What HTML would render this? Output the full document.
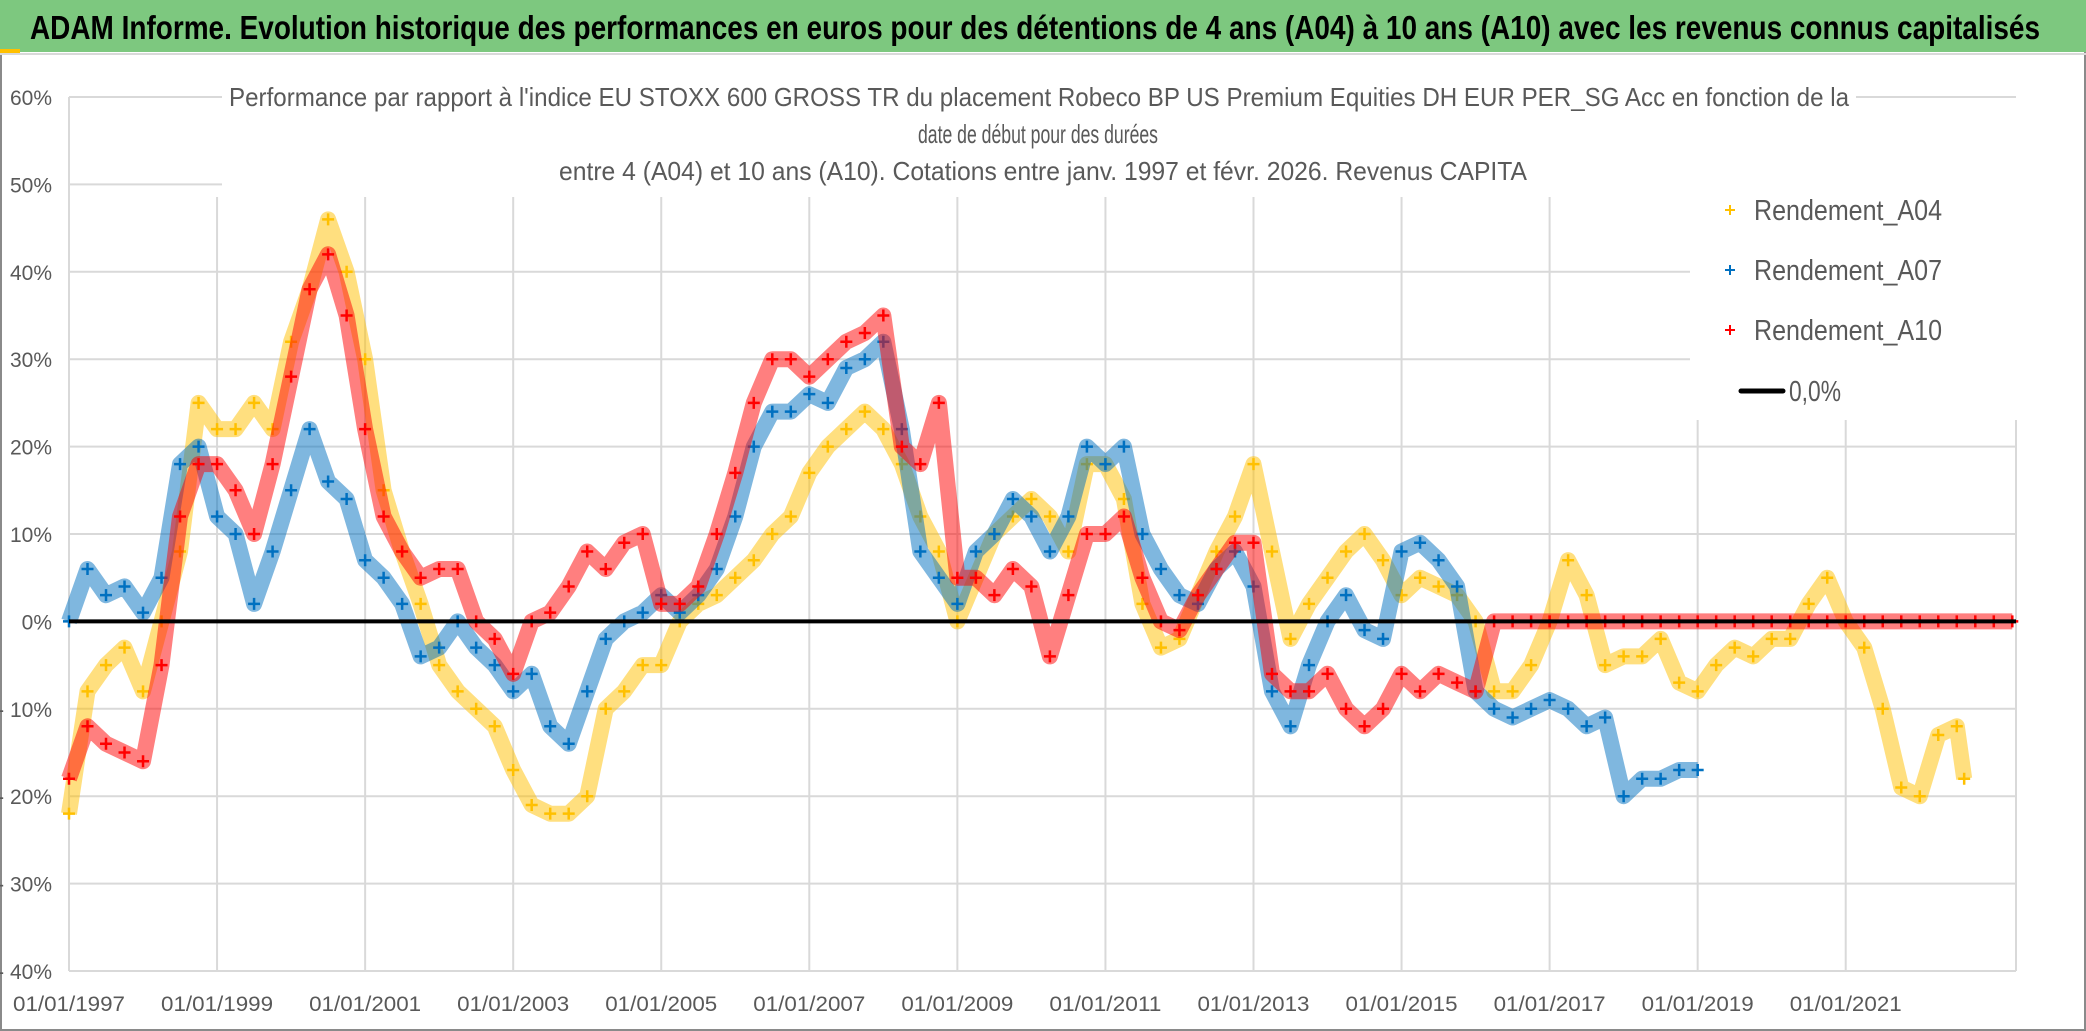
<!DOCTYPE html>
<html><head><meta charset="utf-8"><style>
html,body{margin:0;padding:0;background:#fff}
svg{display:block}
text{font-family:"Liberation Sans",sans-serif}
</style></head><body>
<svg id="chart" width="2086" height="1031" viewBox="0 0 2086 1031" xmlns="http://www.w3.org/2000/svg">
<rect x="0" y="0" width="2086" height="1031" fill="#fff"/>
<rect x="1" y="1" width="2084" height="1029" fill="none" stroke="#8a8a8a" stroke-width="2"/>
<rect x="0" y="0" width="2086" height="52" fill="#7dc87f"/>
<rect x="0" y="49" width="20" height="4" fill="#ffc000"/>
<line x1="0" y1="54" x2="2086" y2="54" stroke="#d9d9d9" stroke-width="2"/>
<text x="30" y="39" font-size="33" font-weight="bold" fill="#000" textLength="2010" lengthAdjust="spacingAndGlyphs">ADAM Informe. Evolution historique des performances en euros pour des détentions de 4 ans (A04) à 10 ans (A10) avec les revenus connus capitalisés</text>
<g id="grid"></g>
<g id="series"></g>
<g>
<rect x="222" y="80" width="1634" height="108" fill="#fff"/>
<text x="229" y="106" font-size="26" fill="#595959" textLength="1620" lengthAdjust="spacingAndGlyphs">Performance par rapport à l'indice EU STOXX 600 GROSS TR  du placement Robeco BP US Premium Equities DH EUR PER_SG Acc en fonction de la</text>
<text x="918" y="143" font-size="26" fill="#595959" textLength="240" lengthAdjust="spacingAndGlyphs">date de début pour des durées</text>
<text x="559" y="180" font-size="26" fill="#595959" textLength="968" lengthAdjust="spacingAndGlyphs">entre 4 (A04) et 10 ans (A10). Cotations entre janv. 1997 et févr. 2026. Revenus CAPITA</text>
</g>
<g id="legend">
<rect x="1690" y="180" width="330" height="240" fill="#fff"/>
<g><path d="M1725 210h10M1730 205v10" stroke="#ffc000" stroke-width="2"/><text x="1754" y="220" font-size="29" fill="#595959" textLength="188" lengthAdjust="spacingAndGlyphs">Rendement_A04</text></g>
<g><path d="M1725 270h10M1730 265v10" stroke="#0070c0" stroke-width="2"/><text x="1754" y="280" font-size="29" fill="#595959" textLength="188" lengthAdjust="spacingAndGlyphs">Rendement_A07</text></g>
<g><path d="M1725 330h10M1730 325v10" stroke="#ff0000" stroke-width="2"/><text x="1754" y="340" font-size="29" fill="#595959" textLength="188" lengthAdjust="spacingAndGlyphs">Rendement_A10</text></g>
<g><line x1="1741" y1="391" x2="1783" y2="391" stroke="#000" stroke-width="5" stroke-linecap="round"/><text x="1789" y="401" font-size="29" fill="#595959" textLength="52" lengthAdjust="spacingAndGlyphs">0,0%</text></g>
</g>
</svg>
<script>
const yTicks = [60,50,40,30,20,10,0,-10,-20,-30,-40];
const yTickLabels = ["60%","50%","40%","30%","20%","10%","0%","- 10%","- 20%","- 30%","- 40%"];
const xTicks = [1997,1999,2001,2003,2005,2007,2009,2011,2013,2015,2017,2019,2021];
const xTickLabels = ["01/01/1997","01/01/1999","01/01/2001","01/01/2003","01/01/2005","01/01/2007","01/01/2009","01/01/2011","01/01/2013","01/01/2015","01/01/2017","01/01/2019","01/01/2021"];
const datesA04 = [1997,1997.25,1997.5,1997.75,1998,1998.25,1998.5,1998.75,1999,1999.25,1999.5,1999.75,2000,2000.25,2000.5,2000.75,2001,2001.25,2001.5,2001.75,2002,2002.25,2002.5,2002.75,2003,2003.25,2003.5,2003.75,2004,2004.25,2004.5,2004.75,2005,2005.25,2005.5,2005.75,2006,2006.25,2006.5,2006.75,2007,2007.25,2007.5,2007.75,2008,2008.25,2008.5,2008.75,2009,2009.25,2009.5,2009.75,2010,2010.25,2010.5,2010.75,2011,2011.25,2011.5,2011.75,2012,2012.25,2012.5,2012.75,2013,2013.25,2013.5,2013.75,2014,2014.25,2014.5,2014.75,2015,2015.25,2015.5,2015.75,2016,2016.25,2016.5,2016.75,2017,2017.25,2017.5,2017.75,2018,2018.25,2018.5,2018.75,2019,2019.25,2019.5,2019.75,2020,2020.25,2020.5,2020.75,2021,2021.25,2021.5,2021.75,2022,2022.25,2022.5,2022.6];
const valuesA04 = [-22,-8,-5,-3,-8,0,8,25,22,22,25,22,32,38,46,40,30,15,8,2,-5,-8,-10,-12,-17,-21,-22,-22,-20,-10,-8,-5,-5,0,2,3,5,7,10,12,17,20,22,24,22,18,12,8,0,5,10,12,14,12,8,18,18,14,2,-3,-2,3,8,12,18,8,-2,2,5,8,10,7,3,5,4,3,0,-8,-8,-5,0,7,3,-5,-4,-4,-2,-7,-8,-5,-3,-4,-2,-2,2,5,0,-3,-10,-19,-20,-13,-12,-18];
const datesA07 = [1997,1997.25,1997.5,1997.75,1998,1998.25,1998.5,1998.75,1999,1999.25,1999.5,1999.75,2000,2000.25,2000.5,2000.75,2001,2001.25,2001.5,2001.75,2002,2002.25,2002.5,2002.75,2003,2003.25,2003.5,2003.75,2004,2004.25,2004.5,2004.75,2005,2005.25,2005.5,2005.75,2006,2006.25,2006.5,2006.75,2007,2007.25,2007.5,2007.75,2008,2008.25,2008.5,2008.75,2009,2009.25,2009.5,2009.75,2010,2010.25,2010.5,2010.75,2011,2011.25,2011.5,2011.75,2012,2012.25,2012.5,2012.75,2013,2013.25,2013.5,2013.75,2014,2014.25,2014.5,2014.75,2015,2015.25,2015.5,2015.75,2016,2016.25,2016.5,2016.75,2017,2017.25,2017.5,2017.75,2018,2018.25,2018.5,2018.75,2019];
const valuesA07 = [0,6,3,4,1,5,18,20,12,10,2,8,15,22,16,14,7,5,2,-4,-3,0,-3,-5,-8,-6,-12,-14,-8,-2,0,1,3,1,3,6,12,20,24,24,26,25,29,30,32,22,8,5,2,8,10,14,12,8,12,20,18,20,10,6,3,2,6,8,4,-8,-12,-5,0,3,-1,-2,8,9,7,4,-8,-10,-11,-10,-9,-10,-12,-11,-20,-18,-18,-17,-17];
const datesA10 = [1997,1997.25,1997.5,1997.75,1998,1998.25,1998.5,1998.75,1999,1999.25,1999.5,1999.75,2000,2000.25,2000.5,2000.75,2001,2001.25,2001.5,2001.75,2002,2002.25,2002.5,2002.75,2003,2003.25,2003.5,2003.75,2004,2004.25,2004.5,2004.75,2005,2005.25,2005.5,2005.75,2006,2006.25,2006.5,2006.75,2007,2007.25,2007.5,2007.75,2008,2008.25,2008.5,2008.75,2009,2009.25,2009.5,2009.75,2010,2010.25,2010.5,2010.75,2011,2011.25,2011.5,2011.75,2012,2012.25,2012.5,2012.75,2013,2013.25,2013.5,2013.75,2014,2014.25,2014.5,2014.75,2015,2015.25,2015.5,2015.75,2016,2016.25,2016.5,2016.75,2017,2017.25,2017.5,2017.75,2018,2018.25,2018.5,2018.75,2019,2019.25,2019.5,2019.75,2020,2020.25,2020.5,2020.75,2021,2021.25,2021.5,2021.75,2022,2022.25,2022.5,2022.75,2023,2023.25];
const valuesA10 = [-18,-12,-14,-15,-16,-5,12,18,18,15,10,18,28,38,42,35,22,12,8,5,6,6,0,-2,-6,0,1,4,8,6,9,10,2,2,4,10,17,25,30,30,28,30,32,33,35,20,18,25,5,5,3,6,4,-4,3,10,10,12,5,0,-1,3,6,9,9,-6,-8,-8,-6,-10,-12,-10,-6,-8,-6,-7,-8,0,0,0,0,0,0,0,0,0,0,0,0,0,0,0,0,0,0,0,0,0,0,0,0,0,0,0,0,0,0,0];

const NS = "http://www.w3.org/2000/svg";
const PL = 69, PR = 2016, PT = 97, PB = 971;
function xPos(t){ return PL + (t - 1997) * (PR - PL) / (2023.3 - 1997); }
function yPos(v){ return PT + (60 - v) * (PB - PT) / 100; }
function mk(tag, attrs, parent){ const e = document.createElementNS(NS, tag); for (const k in attrs) e.setAttribute(k, attrs[k]); parent.appendChild(e); return e; }

const grid = document.getElementById('grid');
yTicks.forEach((v, i) => {
  const l = mk('line', {x1: PL, x2: PR, y1: yPos(v), y2: yPos(v), stroke: '#d9d9d9', 'stroke-width': 2}, grid);
  
  
  const t = mk('text', {x: 52, y: yPos(v) + 8, 'text-anchor': 'end', 'font-size': 21, fill: '#595959'}, grid);
  
  
  t.textContent = yTickLabels[i];
});
xTicks.forEach((t0, i) => {
  const l = mk('line', {x1: xPos(t0), x2: xPos(t0), y1: PT + 100, y2: PB, stroke: '#d9d9d9', 'stroke-width': 2}, grid);
  
  
  const t = mk('text', {x: xPos(t0), y: PB + 40, 'text-anchor': 'middle', 'font-size': 21, fill: '#595959', textLength: 112, lengthAdjust: 'spacingAndGlyphs'}, grid);
  
  
  t.textContent = xTickLabels[i];
});
const ax = mk('line', {x1: PL, x2: PL, y1: PT, y2: PB, stroke: '#d9d9d9', 'stroke-width': 2}, grid);


const rx = mk('line', {x1: PR, x2: PR, y1: PT + 100, y2: PB, stroke: '#d9d9d9', 'stroke-width': 2}, grid);



const ser = document.getElementById('series');
function drawSeries(dates, vals, color, name){
  const g = mk('g', {}, ser);
  
  
  const pts = dates.map((d, i) => xPos(d).toFixed(1) + ',' + yPos(vals[i]).toFixed(1)).join(' ');
  const band = mk('polyline', {points: pts, fill: 'none', stroke: color, 'stroke-width': 16, 'stroke-opacity': 0.5, 'stroke-linejoin': 'round'}, g);
  
  
  dates.forEach((d, i) => {
    const x = xPos(d), y = yPos(vals[i]);
    const p = mk('path', {d: `M${x-6} ${y}h12M${x} ${y-6}v12`, stroke: color, 'stroke-width': 2.5}, g);
    
    
  });
}
drawSeries(datesA04, valuesA04, '#ffc000', 'series-a04');
drawSeries(datesA07, valuesA07, '#0070c0', 'series-a07');
drawSeries(datesA10, valuesA10, '#ff0000', 'series-a10');
const zl = mk('line', {x1: PL, x2: PR, y1: yPos(0), y2: yPos(0), stroke: '#000', 'stroke-width': 4}, ser);


</script>
</body></html>
